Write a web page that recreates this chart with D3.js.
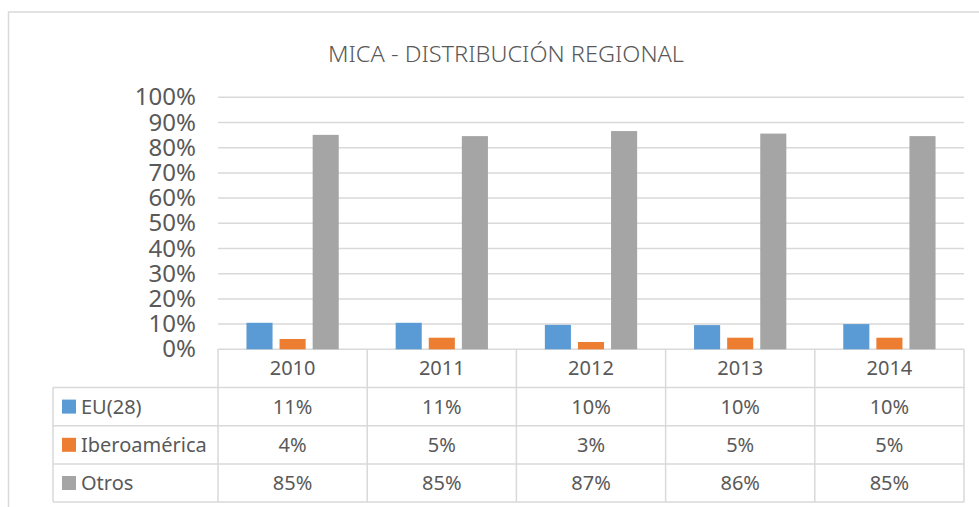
<!DOCTYPE html>
<html>
<head>
<meta charset="utf-8">
<script src="https://cdn.jsdelivr.net/npm/d3@7"></script>
<style>
	body { margin: 0; background: #fff; }
	svg { display: block; }
</style>
</head>
<body>
<script>
// Data
const years = ["2010", "2011", "2012", "2013", "2014"];
const seriesNames = ["EU(28)", "Iberoamérica", "Otros"];
const euValues = [0.1052, 0.1052, 0.097, 0.096, 0.1];
const iberoValues = [0.041, 0.046, 0.029, 0.046, 0.046];
const otrosValues = [0.851, 0.846, 0.866, 0.856, 0.846];
const yTicks = [0, 0.1, 0.2, 0.3, 0.4, 0.5, 0.6, 0.7, 0.8, 0.9, 1];

const seriesValues = [euValues, iberoValues, otrosValues];
const colors = ["#5b9bd5", "#ed7d31", "#a5a5a5"];

const width = 979, height = 507;
const plot = { left: 218, right: 964, top: 97.3, bottom: 349.3 };
const legendLeft = 53;
const rowH = 38.2;
const gridColor = "#d9d9d9";
const textColor = "#595959";
const font = "'Noto Sans', sans-serif";

const svg = d3.select("body").append("svg")
	.attr("width", width)
	.attr("height", height)
	.attr("font-family", font);

// chart frame (runs off the right and bottom edges)
svg.append("rect")
	.attr("x", 8.5).attr("y", 12)
	.attr("width", 1000).attr("height", 600)
	.attr("fill", "none")
	.attr("stroke", gridColor)
	.attr("stroke-width", 1.5);

// title
svg.append("text")
	.attr("x", (328 + 684) / 2)
	.attr("y", 61.5)
	.attr("text-anchor", "middle")
	.attr("font-size", 22)
	.attr("font-weight", 300)
	.attr("fill", textColor)
	.attr("textLength", 356)
	.attr("lengthAdjust", "spacingAndGlyphs")
	.text("MICA - DISTRIBUCIÓN REGIONAL");

// scales
const y = d3.scaleLinear().domain([0, 1]).range([plot.bottom, plot.top]);
const x0 = d3.scaleBand().domain(years).range([plot.left, plot.right]);
const x1 = d3.scaleBand()
	.domain(seriesNames)
	.range([0, x0.bandwidth()])
	.paddingInner(0.212)
	.paddingOuter(0.86);

// gridlines
svg.append("g")
	.selectAll("line")
	.data(yTicks)
	.join("line")
	.attr("x1", plot.left).attr("x2", plot.right)
	.attr("y1", (d) => y(d)).attr("y2", (d) => y(d))
	.attr("stroke", gridColor)
	.attr("stroke-width", 1.5);

// y axis labels
const yAxis = svg.append("g")
	.attr("transform", `translate(${plot.left - 22},0)`)
	.call(d3.axisLeft(y).tickValues(yTicks).tickFormat(d3.format(".0%")).tickSize(0).tickPadding(0));
yAxis.select(".domain").remove();
yAxis.selectAll(".tick text")
	.attr("font-family", font)
	.attr("font-size", 24)
	.attr("fill", textColor);

// bars
svg.append("g")
	.selectAll("g")
	.data(seriesNames)
	.join("g")
	.attr("fill", (d, i) => colors[i])
	.selectAll("rect")
	.data((s, i) => years.map((yr, j) => ({ series: s, year: yr, value: seriesValues[i][j] })))
	.join("rect")
	.attr("x", (d) => x0(d.year) + x1(d.series))
	.attr("width", x1.bandwidth())
	.attr("y", (d) => y(d.value))
	.attr("height", (d) => y(0) - y(d.value));

// data table
const table = svg.append("g")
	.attr("stroke", gridColor)
	.attr("stroke-width", 1.5);
const tableBottom = plot.bottom + rowH * 4;

// horizontal lines
[1, 2, 3, 4].forEach((r) => {
	table.append("line")
		.attr("x1", legendLeft).attr("x2", plot.right)
		.attr("y1", plot.bottom + rowH * r).attr("y2", plot.bottom + rowH * r);
});
// vertical lines
table.append("line")
	.attr("x1", legendLeft).attr("x2", legendLeft)
	.attr("y1", plot.bottom + rowH).attr("y2", tableBottom);
[...years.map((d) => x0(d)), plot.right].forEach((xv) => {
	table.append("line")
		.attr("x1", xv).attr("x2", xv)
		.attr("y1", plot.bottom).attr("y2", tableBottom);
});

const cellText = svg.append("g")
	.attr("font-size", 20)
	.attr("fill", textColor)
	.attr("text-anchor", "middle");

// year header
cellText.selectAll(".year")
	.data(years)
	.join("text")
	.attr("class", "year")
	.attr("x", (d) => x0(d) + x0.bandwidth() / 2)
	.attr("y", plot.bottom + rowH / 2)
	.attr("dy", "0.35em")
	.text((d) => d);

// value rows
seriesNames.forEach((s, i) => {
	const rowMid = plot.bottom + rowH * (i + 1.5);
	cellText.selectAll(null)
		.data(seriesValues[i])
		.join("text")
		.attr("x", (d, j) => x0(years[j]) + x0.bandwidth() / 2)
		.attr("y", rowMid)
		.attr("dy", "0.35em")
		.text((d) => Math.round(d * 100) + "%");

	// legend key + label
	svg.append("rect")
		.attr("x", 62).attr("y", rowMid - 7)
		.attr("width", 14).attr("height", 14)
		.attr("fill", colors[i]);
	svg.append("text")
		.attr("x", 81)
		.attr("y", rowMid)
		.attr("dy", "0.35em")
		.attr("font-size", 20)
		.attr("fill", textColor)
		.text(s);
});
</script>
</body>
</html>
